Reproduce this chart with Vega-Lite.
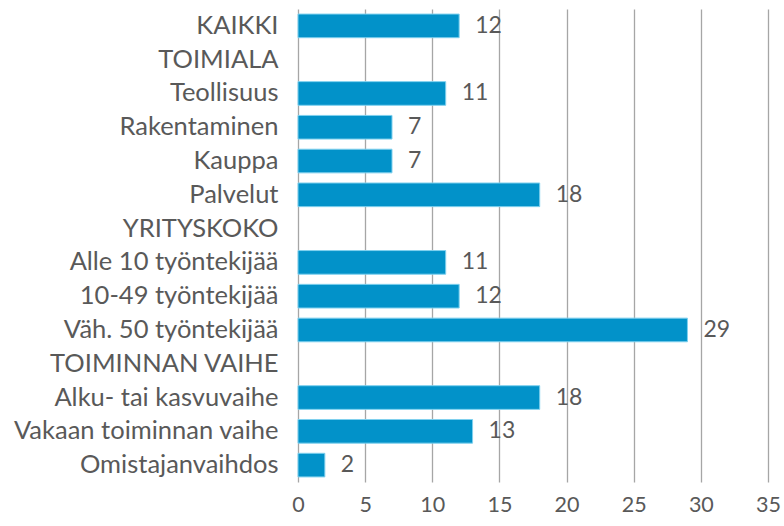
{
  "$schema": "https://vega.github.io/schema/vega-lite/v6.json",
  "width": 470,
  "height": 473,
  "autosize": "none",
  "padding": {"left": 298, "top": 9, "right": 16, "bottom": 44},
  "background": "white",
  "config": {"view": {"stroke": null}, "font": "Lato"},
  "data": {"values": [
    {"luokka": "KAIKKI", "arvo": 12},
    {"luokka": "TOIMIALA", "arvo": null},
    {"luokka": "Teollisuus", "arvo": 11},
    {"luokka": "Rakentaminen", "arvo": 7},
    {"luokka": "Kauppa", "arvo": 7},
    {"luokka": "Palvelut", "arvo": 18},
    {"luokka": "YRITYSKOKO", "arvo": null},
    {"luokka": "Alle 10 työntekijää", "arvo": 11},
    {"luokka": "10-49 työntekijää", "arvo": 12},
    {"luokka": "Väh. 50 työntekijää", "arvo": 29},
    {"luokka": "TOIMINNAN VAIHE", "arvo": null},
    {"luokka": "Alku- tai kasvuvaihe", "arvo": 18},
    {"luokka": "Vakaan toiminnan vaihe", "arvo": 13},
    {"luokka": "Omistajanvaihdos", "arvo": 2}
  ]},
  "encoding": {
    "y": {
      "field": "luokka", "type": "nominal", "sort": null,
      "scale": {"domain": ["KAIKKI", "TOIMIALA", "Teollisuus", "Rakentaminen", "Kauppa", "Palvelut", "YRITYSKOKO", "Alle 10 työntekijää", "10-49 työntekijää", "Väh. 50 työntekijää", "TOIMINNAN VAIHE", "Alku- tai kasvuvaihe", "Vakaan toiminnan vaihe", "Omistajanvaihdos"], "paddingInner": 0.3, "paddingOuter": 0.15},
      "axis": {"title": null, "domain": false, "ticks": false, "labelPadding": 20, "labelFontSize": 25.5, "labelColor": "#595959", "labelFont": "Lato", "labelLimit": 400}
    }
  },
  "layer": [
    {
      "mark": {"type": "bar", "color": "#0292C9", "stroke": "#7FD0EE", "strokeWidth": 1},
      "encoding": {
        "x": {
          "field": "arvo", "type": "quantitative",
          "scale": {"domain": [0, 35], "nice": false},
          "axis": {"title": null, "values": [0, 5, 10, 15, 20, 25, 30, 35], "domain": false, "ticks": false, "grid": true, "gridColor": "#A6A6A6", "gridWidth": 1.3, "labelPadding": 12, "labelFontSize": 21.5, "labelColor": "#595959", "labelFont": "Lato", "labelFlush": false}
        }
      }
    },
    {
      "transform": [{"filter": "datum.arvo != null"}],
      "mark": {"type": "text", "align": "left", "dx": 16, "fontSize": 23, "color": "#595959", "font": "Lato"},
      "encoding": {
        "x": {"field": "arvo", "type": "quantitative"},
        "text": {"field": "arvo", "type": "quantitative"}
      }
    }
  ]
}
